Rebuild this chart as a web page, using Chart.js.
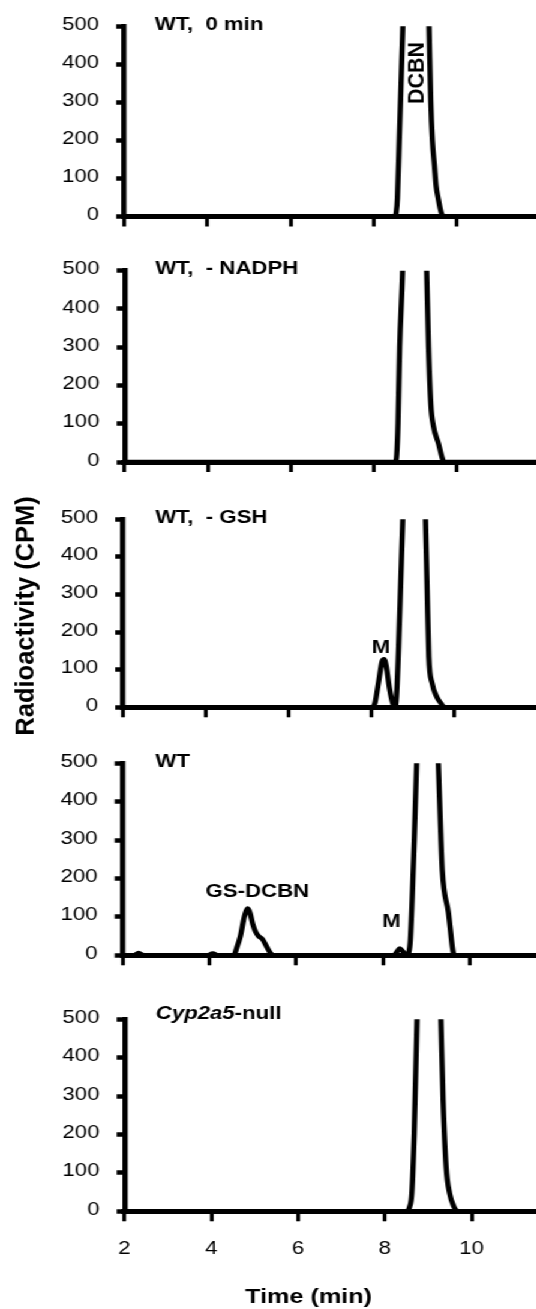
<!DOCTYPE html>
<html>
<head>
<meta charset="utf-8">
<script src="https://cdn.jsdelivr.net/npm/chart.js@4.4.1/dist/chart.umd.min.js"></script>
<style>
html, body { margin: 0; padding: 0; background: #fff; overflow: hidden; }
#fig { position: absolute; left: 0; top: 0; width: 447px; height: 1309px; transform: scaleX(1.2); transform-origin: 0 0; }
#fig canvas { position: absolute; left: 0; }
</style>
</head>
<body>
<div id="fig"></div>
<script>
// the original figure is drawn about 1.2x wider than tall
const STRETCH = 1.2;

// Radioactivity (CPM) against retention time (min).
// Values above 500 are the clipped DCBN peak tops.
const time0min = [2, 8.51, 8.54, 8.57, 8.62, 8.67, 8.70, 8.76, 9.00, 9.27, 9.33, 9.37, 9.41, 9.46, 9.50, 9.55, 9.60, 9.64, 9.68, 12.3];
const cpm0min  = [0, 0, 10, 48, 220, 394, 500, 720, 1100, 740, 500, 307, 200, 134, 80, 48, 20, 5, 0, 0];

const timeNoNadph = [2, 8.52, 8.55, 8.58, 8.62, 8.69, 8.73, 9.00, 9.23, 9.27, 9.315, 9.37, 9.43, 9.555, 9.645, 9.685, 12.3];
const cpmNoNadph  = [0, 0, 20, 100, 300, 500, 700, 1100, 700, 500, 300, 150, 95, 48, 10, 0, 0];

const timeNoGsh = [2, 8.02, 8.09, 8.18, 8.26, 8.31, 8.36, 8.44, 8.52, 8.575, 8.61, 8.66, 8.71, 8.76, 8.81, 9.00, 9.26, 9.31, 9.35, 9.39, 9.47, 9.58, 9.68, 9.77, 12.3];
const cpmNoGsh  = [0, 0, 12, 70, 122, 128, 110, 50, 10, 0, 30, 160, 330, 500, 700, 1000, 700, 500, 312, 135, 64, 28, 11, 0, 0];

const timeWt = [2, 2.26, 2.37, 2.50, 3.97, 4.08, 4.20, 4.565, 4.635, 4.715, 4.81, 4.89, 4.945, 5.005, 5.065, 5.135, 5.225, 5.325, 5.415, 5.465,
                8.26, 8.33, 8.39, 8.46, 8.53, 8.57, 8.595, 8.635, 8.725, 8.78, 8.82, 9.00, 9.23, 9.28, 9.325, 9.37, 9.51, 9.65, 12.3];
const cpmWt  = [0, 0, 6, 0, 0, 5, 0, 0, 20, 49, 101, 122, 108, 80, 62, 50, 42, 22, 5, 0,
                0, 10, 18, 10, 2, 0, 5, 40, 300, 500, 700, 1000, 700, 500, 350, 222, 113, 0, 0];

const timeNull = [2, 8.51, 8.57, 8.62, 8.675, 8.74, 8.80, 9.00, 9.24, 9.29, 9.34, 9.41, 9.49, 9.59, 9.68, 12.3];
const cpmNull  = [0, 0, 12, 47, 203, 500, 700, 1000, 700, 500, 290, 116, 47, 12, 0, 0];

const yTickValues = [0, 100, 200, 300, 400, 500];
const xTickValues = [2, 4, 6, 8, 10];

// where each panel sits in the page (px)
const panels = [
  { time: time0min,    cpm: cpm0min,    top: 0,   height: 244, areaTop: 26.2,   areaBottom: 216.5,  axisX: 124,   xMax: 11.91,
    notes: [{ text: 'WT,  0 min', t: 2.74, v: 490 },
            { text: 'DCBN', t: 9.21, v: 377, rotate: true, size: 21.5 }] },
  { time: timeNoNadph, cpm: cpmNoNadph, top: 244, height: 246, areaTop: 270.7,  areaBottom: 462,    axisX: 124.5, xMax: 11.91,
    notes: [{ text: 'WT,  - NADPH', t: 2.74, v: 490.6 }] },
  { time: timeNoGsh,   cpm: cpmNoGsh,   top: 490, height: 247, areaTop: 519.3,  areaBottom: 707.3,  axisX: 123,   xMax: 11.99,
    notes: [{ text: 'WT,  - GSH', t: 2.78, v: 489.4 },
            { text: 'M', t: 8.23, v: 144, align: 'center' },
            { text: 'Radioactivity (CPM)', px: 33 / STRETCH, v: 243, rotate: true, size: 25.5 }] },
  { time: timeWt,      cpm: cpmWt,      top: 737, height: 255, areaTop: 763.3,  areaBottom: 955.3,  axisX: 122.5, xMax: 11.54,
    notes: [{ text: 'WT', t: 2.76, v: 491 },
            { text: 'GS-DCBN', t: 5.11, v: 153, align: 'center' },
            { text: 'M', t: 8.20, v: 73, align: 'center' }] },
  { time: timeNull,    cpm: cpmNull,    top: 992, height: 317, areaTop: 1019.3, areaBottom: 1211.3, axisX: 124.5, xMax: 11.49,
    showX: true,
    notes: [{ parts: [{ text: 'Cyp2a5', italic: true }, { text: '-null' }], t: 2.72, v: 502 },
            { text: 'Time (min)', t: 6.24, below: 91.4, align: 'center', size: 21 }] }
];

const FAMILY = '"Liberation Sans", Arial, sans-serif';

function notePlugin(notes) {
  return {
    id: 'notes',
    afterDraw(chart) {
      const { ctx, chartArea, scales } = chart;
      ctx.save();
      ctx.fillStyle = '#000';
      ctx.textBaseline = 'alphabetic';
      notes.forEach(n => {
        const size = n.size || 18.5;
        const px = n.px !== undefined ? n.px : scales.x.getPixelForValue(n.t);
        const py = n.below !== undefined ? chartArea.bottom + n.below : scales.y.getPixelForValue(n.v);
        if (n.rotate) {
          // rotated text is not stretched in the original
          ctx.save();
          ctx.translate(px, py);
          ctx.scale(1 / STRETCH, 1);
          ctx.rotate(-Math.PI / 2);
          ctx.font = 'bold ' + size + 'px ' + FAMILY;
          ctx.textAlign = 'center';
          ctx.fillText(n.text, 0, 0);
          ctx.restore();
          return;
        }
        const parts = n.parts || [{ text: n.text }];
        const fonts = parts.map(p => (p.italic ? 'italic ' : '') + 'bold ' + size + 'px ' + FAMILY);
        const widths = parts.map((p, i) => { ctx.font = fonts[i]; return ctx.measureText(p.text).width; });
        const total = widths.reduce((a, b) => a + b, 0);
        let cx = n.align === 'center' ? px - total / 2 : px;
        ctx.textAlign = 'left';
        parts.forEach((p, i) => {
          ctx.font = fonts[i];
          ctx.fillText(p.text, cx, py);
          cx += widths[i];
        });
      });
      ctx.restore();
    }
  };
}

const fig = document.getElementById('fig');

panels.forEach(p => {
  const canvas = document.createElement('canvas');
  canvas.width = 447;
  canvas.height = p.height;
  canvas.style.top = p.top + 'px';
  canvas.style.width = '447px';
  canvas.style.height = p.height + 'px';
  fig.appendChild(canvas);

  const points = p.time.map((t, i) => ({ x: t, y: p.cpm[i] }));
  const xAxisHeight = p.height - (p.areaBottom - p.top);

  new Chart(canvas.getContext('2d'), {
    type: 'line',
    data: {
      datasets: [{
        data: points,
        borderColor: '#000',
        borderWidth: 4.4,
        pointRadius: 0,
        fill: false,
        cubicInterpolationMode: 'monotone',
        borderJoinStyle: 'round'
      }]
    },
    options: {
      responsive: false,
      animation: false,
      devicePixelRatio: 1,
      layout: { padding: { top: p.areaTop - p.top, left: 0, right: 0, bottom: 0 } },
      plugins: { legend: { display: false }, tooltip: { enabled: false } },
      scales: {
        x: {
          type: 'linear',
          min: 2,
          max: p.xMax,
          afterBuildTicks: s => { s.ticks = xTickValues.map(v => ({ value: v })); },
          afterFit: s => { s.height = xAxisHeight; },
          ticks: {
            display: !!p.showX,
            color: '#000',
            padding: 17,
            maxRotation: 0,
            autoSkip: false,
            font: { family: FAMILY, size: 18.5 }
          },
          grid: { drawOnChartArea: false, drawTicks: true, tickLength: 10, tickWidth: 3.2, tickColor: '#000' },
          border: { display: true, color: '#000', width: 5 }
        },
        y: {
          min: 0,
          max: 500,
          afterBuildTicks: s => { s.ticks = yTickValues.map(v => ({ value: v })); },
          afterFit: s => { s.width = p.axisX / STRETCH; },
          ticks: {
            color: '#000',
            padding: 14.3,
            labelOffset: -1.5,
            font: { family: FAMILY, size: 18.5 }
          },
          grid: { drawOnChartArea: false, drawTicks: true, tickLength: 6.5, tickWidth: 4.5, tickColor: '#000' },
          border: { display: true, color: '#000', width: 4.4 }
        }
      }
    },
    plugins: [notePlugin(p.notes)]
  });
});
</script>
</body>
</html>
